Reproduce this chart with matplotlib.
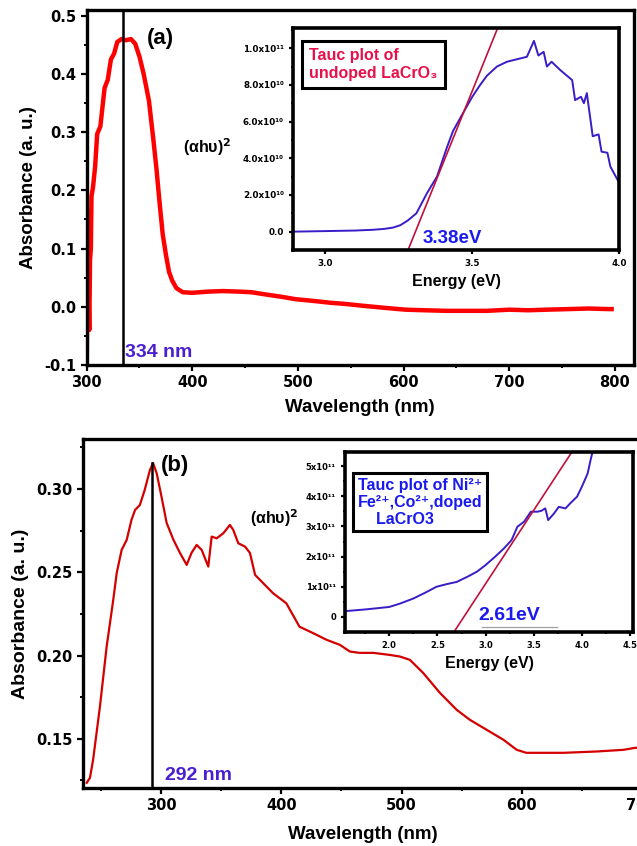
import matplotlib
matplotlib.use("Agg")
import matplotlib.pyplot as plt
from matplotlib.ticker import MultipleLocator

plt.rcParams['font.family'] = ['Liberation Sans', 'DejaVu Sans']
plt.rcParams['font.weight'] = 'bold'

# ---- panel (a): undoped LaCrO3 absorbance ----
wl_a = [300.0, 300.3, 300.8, 301.5, 302.5, 303.2, 304.0, 304.6, 306, 308, 310, 313, 317,
        320, 323, 326, 329, 333, 337, 342, 346, 350, 354, 359, 363, 366, 369, 372,
        375, 378, 381, 385, 391, 400, 415, 429, 445, 456, 470, 485, 498, 515,
        530, 544, 560, 583, 602, 620, 641, 660, 679, 700, 718, 735, 756, 775, 794, 797]
abs_a = [-0.12, -0.05, 0.165, 0.05, -0.04, 0.08, 0.10, 0.19, 0.205, 0.24, 0.297, 0.31, 0.376,
         0.39, 0.425, 0.435, 0.455, 0.46, 0.458, 0.46, 0.452, 0.43, 0.40, 0.354, 0.29, 0.239, 0.18, 0.125,
         0.09, 0.06, 0.045, 0.032, 0.025, 0.024, 0.026, 0.027, 0.026, 0.025, 0.021, 0.017, 0.013, 0.010,
         0.007, 0.005, 0.002, -0.002, -0.005, -0.006, -0.007, -0.007, -0.007, -0.005, -0.006, -0.005, -0.004, -0.003, -0.004, -0.004]
peak_a = 334

# inset (a): Tauc plot, values in units of 1e10
E_a = [2.89, 3.0, 3.1, 3.16, 3.2, 3.23, 3.255, 3.28, 3.31, 3.346, 3.38, 3.414, 3.435, 3.47, 3.5, 3.527, 3.55,
       3.584, 3.618, 3.663, 3.686, 3.71, 3.725, 3.743, 3.754, 3.77, 3.8, 3.84, 3.85, 3.87,
       3.88, 3.89, 3.91, 3.93, 3.94, 3.96, 3.97, 4.0]
tauc_a = [0.0, 0.03, 0.06, 0.1, 0.15, 0.22, 0.35, 0.6, 1.0, 2.1, 3.0, 4.6, 5.5, 6.5, 7.35, 8.0, 8.5,
          9.0, 9.26, 9.44, 9.53, 10.4, 9.6, 9.8, 9.0, 9.26, 8.8, 8.26, 7.17, 7.35,
          7.0, 7.55, 5.2, 5.3, 4.36, 4.3, 3.55, 2.66]
fit_a_E = [3.282, 3.584]
fit_a_y = [-0.98, 11.0]
ytick_a = [0, 2, 4, 6, 8, 10]
ylab_a = ["0.0", "2.0x10¹⁰", "4.0x10¹⁰", "6.0x10¹⁰", "8.0x10¹⁰", "1.0x10¹¹"]

# ---- panel (b): Ni/Fe/Co doped LaCrO3 absorbance ----
wl_b = [237.7, 240.4, 243, 248.7, 254.3, 259.8, 262.7, 266.8, 271, 275, 278, 282, 286,
        290.4, 293, 296, 300, 304.3, 310, 315.4, 321, 325, 329.3, 333.5, 339, 341.8,
        346, 351.5, 357, 359.8, 364, 369.6, 373.7, 378, 384.8, 393, 404, 415, 426.5,
        437.7, 448.7, 457, 465, 476.5, 490, 498.7, 507, 518, 532, 546, 557, 571,
        585, 596, 604, 621, 635, 662.7, 685, 694.6, 702]
abs_b = [0.1236, 0.1266, 0.1373, 0.1693, 0.2053, 0.2334, 0.2496, 0.2634, 0.2694, 0.2814,
         0.2874, 0.2904, 0.2994, 0.3114, 0.3155, 0.3094, 0.2954, 0.2796, 0.2694, 0.2616,
         0.2544, 0.2616, 0.2664, 0.2634, 0.2534, 0.2714, 0.2704, 0.2734, 0.2784, 0.2754,
         0.2674, 0.2654, 0.2616, 0.2484, 0.2434, 0.2374, 0.2314, 0.2173, 0.2134, 0.2094,
         0.2064, 0.2024, 0.2016, 0.2016, 0.2004, 0.1994, 0.1974, 0.1896, 0.1776, 0.1674,
         0.1614, 0.1554, 0.1494, 0.1434, 0.1416, 0.1416, 0.1416, 0.1424, 0.1434, 0.1446, 0.1446]
peak_b = 292
peak_b_abs = 0.3155

# inset (b): Tauc plot, values in units of 1e11
E_b = [1.54, 1.76, 2.0, 2.11, 2.25, 2.39, 2.49, 2.6, 2.7, 2.81, 2.91, 3.0, 3.1, 3.19,
       3.27, 3.33, 3.4, 3.47, 3.54, 3.58, 3.62, 3.65, 3.71, 3.76, 3.83, 3.88, 3.95,
       4.0, 4.06, 4.09, 4.12]
tauc_b = [0.19, 0.25, 0.33, 0.44, 0.61, 0.83, 1.0, 1.09, 1.16, 1.33, 1.5, 1.72, 2.0, 2.27,
          2.55, 2.99, 3.16, 3.49, 3.49, 3.52, 3.6, 3.21, 3.43, 3.65, 3.6, 3.77, 3.99,
          4.32, 4.76, 5.2, 5.6]
fit_b_E = [2.684, 3.90]
fit_b_y = [-0.44, 5.49]
ytick_b = [0, 1, 2, 3, 4, 5]
ylab_b = ["0", "1x10¹¹", "2x10¹¹", "3x10¹¹", "4x10¹¹", "5x10¹¹"]

fig = plt.figure(figsize=(6.37, 8.46), dpi=100)
TICKFONT = ['DejaVu Sans']


def style_axis(ax, lw=2.4, size=10.5, tl=4):
    for s in ax.spines.values():
        s.set_linewidth(lw)
    ax.tick_params(which='major', direction='out', width=1.6, length=tl, labelsize=size)
    ax.tick_params(which='minor', direction='out', width=1.4, length=tl * 0.6)
    for lab in ax.get_xticklabels() + ax.get_yticklabels():
        lab.set_fontweight('bold')
        lab.set_family(TICKFONT)


# panel (a)
ax1 = fig.add_axes([0.136, 0.5686, 0.859, 0.4196])
ax1.plot(wl_a, abs_a, color='#ff0000', lw=3.2)
ax1.axvline(peak_a, color='black', lw=1.8)
ax1.set_xlim(300, 818)
ax1.set_ylim(-0.1, 0.51)
ax1.xaxis.set_major_locator(MultipleLocator(100))
ax1.xaxis.set_minor_locator(MultipleLocator(50))
ax1.yaxis.set_minor_locator(MultipleLocator(0.05))
ax1.set_yticks([-0.1, 0.0, 0.1, 0.2, 0.3, 0.4, 0.5])
ax1.set_yticklabels(["-0.1", "0.0", "0.1", "0.2", "0.3", "0.4", "0.5"])
style_axis(ax1)
ax1.set_xlabel("Wavelength (nm)", fontsize=13.5, fontweight='bold', labelpad=6)
ax1.set_ylabel("Absorbance (a. u.)", fontsize=13.5, fontweight='bold', labelpad=5)
ax1.text(336, -0.087, "334 nm", color='#4a1fd0', fontsize=14, fontweight='bold')
ax1.text(357, 0.452, "(a)", color='black', fontsize=16, fontweight='bold')
ax1.text(391, 0.265, "(αhυ)$^\\mathbf{2}$", fontsize=11.5, fontweight='bold')

# inset (a)
ins1 = fig.add_axes([0.46, 0.7045, 0.512, 0.2624])
ins1.plot(E_a, tauc_a, color='#3a1cc8', lw=1.4)
ins1.plot(fit_a_E, fit_a_y, color='#c0103a', lw=1.2)
ins1.set_xlim(2.89, 4.0)
ins1.set_ylim(-1.0, 11.1)
ins1.set_xticks([3.0, 3.5, 4.0])
ins1.set_xticklabels(["3.0", "3.5", "4.0"])
ins1.set_yticks(ytick_a)
ins1.set_yticklabels(ylab_a)
ins1.yaxis.set_minor_locator(MultipleLocator(1))
style_axis(ins1, lw=2.6, size=6.3, tl=3)
ins1.set_xlabel("Energy (eV)", fontsize=11.5, fontweight='bold', labelpad=4)
ins1.text(3.33, -0.6, "3.38eV", color='#1a1aee', fontsize=13.5, fontweight='bold')
ins1.text(0.05, 0.836, "Tauc plot of\nundoped LaCrO₃", transform=ins1.transAxes,
          color='#e8104a', fontsize=11.5, fontweight='bold', va='center', ha='left',
          linespacing=1.25,
          bbox=dict(boxstyle='square,pad=0.45', fc='white', ec='black', lw=2.2))

# panel (b)
ax2 = fig.add_axes([0.1303, 0.0686, 0.88, 0.4125])
ax2.plot(wl_b, abs_b, color='#d40000', lw=1.6)
ax2.plot([peak_b, peak_b], [0.1, peak_b_abs], color='black', lw=1.8)
ax2.set_xlim(234.6, 701.7)
ax2.set_ylim(0.1205, 0.33)
ax2.xaxis.set_major_locator(MultipleLocator(100))
ax2.xaxis.set_minor_locator(MultipleLocator(50))
ax2.set_yticks([0.15, 0.20, 0.25, 0.30])
ax2.set_yticklabels(["0.15", "0.20", "0.25", "0.30"])
ax2.yaxis.set_minor_locator(MultipleLocator(0.025))
style_axis(ax2)
ax2.set_xlabel("Wavelength (nm)", fontsize=13.5, fontweight='bold', labelpad=9)
ax2.set_ylabel("Absorbance (a. u.)", fontsize=14, fontweight='bold', labelpad=5)
ax2.text(303, 0.1255, "292 nm", color='#4a1fd0', fontsize=14, fontweight='bold')
ax2.text(299.5, 0.311, "(b)", color='black', fontsize=16, fontweight='bold')
ax2.text(374, 0.279, "(αhυ)$^\\mathbf{2}$", fontsize=11.5, fontweight='bold')

# inset (b)
ins2 = fig.add_axes([0.5416, 0.2530, 0.452, 0.2127])
ins2.plot(E_b, tauc_b, color='#3a1cc8', lw=1.4)
ins2.plot(fit_b_E, fit_b_y, color='#c0103a', lw=1.2)
ins2.plot([2.96, 3.74], [-0.34, -0.34], color='#a0a0a0', lw=0.9)
ins2.set_xlim(1.54, 4.53)
ins2.set_ylim(-0.5, 5.47)
ins2.set_xticks([2.0, 2.5, 3.0, 3.5, 4.0, 4.5])
ins2.set_xticklabels(["2.0", "2.5", "3.0", "3.5", "4.0", "4.5"])
ins2.xaxis.set_minor_locator(MultipleLocator(0.25))
ins2.set_yticks(ytick_b)
ins2.set_yticklabels(ylab_b)
ins2.yaxis.set_minor_locator(MultipleLocator(0.5))
style_axis(ins2, lw=2.6, size=6, tl=3)
ins2.set_xlabel("Energy (eV)", fontsize=11.5, fontweight='bold', labelpad=4)
ins2.text(2.93, -0.1, "2.61eV", color='#1a1aee', fontsize=14, fontweight='bold')
ins2.text(0.045, 0.72, "Tauc plot of Ni²⁺\nFe²⁺,Co²⁺,doped\n    LaCrO3", transform=ins2.transAxes,
          color='#1a1aee', fontsize=11.5, fontweight='bold', va='center', ha='left',
          linespacing=1.15,
          bbox=dict(boxstyle='square,pad=0.3', fc='white', ec='black', lw=2.2))

fig.savefig("out.png", dpi=100)
